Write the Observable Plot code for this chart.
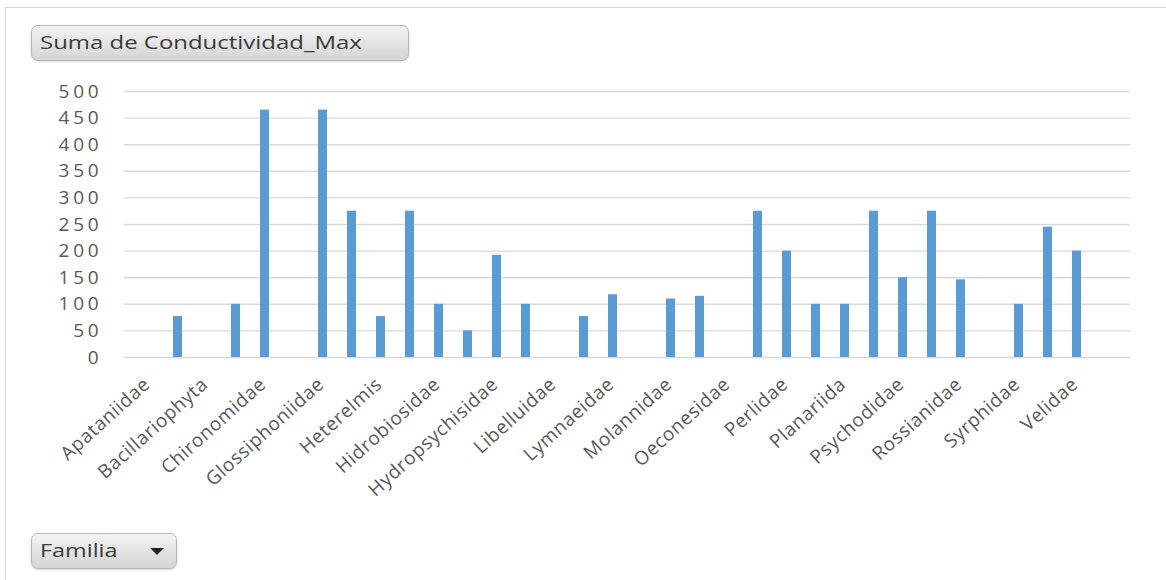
<!DOCTYPE html>
<html>
<head>
<meta charset="utf-8">
<script src="https://cdn.jsdelivr.net/npm/d3@7"></script>
<script src="https://cdn.jsdelivr.net/npm/@observablehq/plot@0.6"></script>
<style>
  body { margin: 0; background: #ffffff; }
  #wrap { position: relative; width: 1166px; height: 580px; overflow: hidden; font-family: "Open Sans", sans-serif; background: #fff; }
  #frame { position: absolute; left: 5px; top: 7px; width: 1200px; height: 640px; border: 1.5px solid #d6d6d6; }
  #chart { position: absolute; left: 0; top: 0; }
  .btn { position: absolute; box-sizing: border-box; border: 1px solid #b5b5b5; border-radius: 7px;
         background: linear-gradient(#f4f4f4, #d4d4d4); color: #3a3a3a; font-size: 18px;
         box-shadow: 0 1px 2px rgba(0,0,0,0.15); white-space: nowrap; }
  .btn .lbl { display: inline-block; transform: scaleX(1.33); transform-origin: left center; }
  #title { left: 31px; top: 25px; width: 378px; height: 36px; padding: 4px 0 0 8px; }
  #filter { left: 31px; top: 533px; width: 146px; height: 36px; padding: 4px 0 0 8px; }
  #filter .lbl { transform: scaleX(1.3); }
  #filter .arrow { position: absolute; right: 12px; top: 14px; width: 0; height: 0;
         border-left: 7px solid transparent; border-right: 7px solid transparent; border-top: 7px solid #222; }
</style>
</head>
<body>
<div id="wrap">
  <div id="frame"></div>
  <div id="chart"></div>
  <div class="btn" id="title"><span class="lbl">Suma de Conductividad_Max</span></div>
  <div class="btn" id="filter"><span class="lbl">Familia</span><span class="arrow"></span></div>
</div>
<script>
// Families in pivot order (every other label is shown on the axis)
const families = [
  "Apataniidae", "Athericidae", "Bacillariophyta", "Baetidae", "Chironomidae", "Elmidae",
  "Glossiphoniidae", "Gripopterygidae", "Heterelmis", "Hidracarina", "Hidrobiosidae", "Hyalellidae",
  "Hydropsychisidae", "Leptophlebiidae", "Libelluidae", "Limnephilidae", "Lymnaeidae", "Megapodagrionidae",
  "Molannidae", "Naucoridae", "Oeconesidae", "Oligochaeta", "Perlidae", "Philopotamidae",
  "Planariida", "Polycentropodidae", "Psychodidae", "Ptilodactylidae", "Rossianidae", "Simuliidae",
  "Syrphidae", "Tipulidae", "Velidae", "(en blanco)"
];
// Suma de Conductividad_Max (null = no bar)
const conductividad = [
  null, 77, null, 100, 465, null,
  465, 275, 77, 275, 100, 50,
  192, 100, null, 77, 118, null,
  110, 115, null, 275, 200, 100,
  100, 275, 150, 275, 146, null,
  100, 245, 200, null
];
// Labels visible on the category axis
const shownLabels = [
  "Apataniidae", "Bacillariophyta", "Chironomidae", "Glossiphoniidae", "Heterelmis", "Hidrobiosidae",
  "Hydropsychisidae", "Libelluidae", "Lymnaeidae", "Molannidae", "Oeconesidae", "Perlidae",
  "Planariida", "Psychodidae", "Rossianidae", "Syrphidae", "Velidae"
];
const yTicks = [0, 50, 100, 150, 200, 250, 300, 350, 400, 450, 500];

const rows = families.map((f, i) => ({family: f, value: conductividad[i]})).filter(d => d.value != null);

const chart = Plot.plot({
  width: 1166,
  height: 520,
  marginLeft: 124,
  marginRight: 36,
  marginTop: 91,
  marginBottom: 163,
  style: { fontFamily: "'Open Sans', sans-serif", fontSize: "19px", letterSpacing: "0.6px", color: "#595959", background: "transparent", overflow: "visible" },
  x: { domain: families, paddingInner: 0.68, paddingOuter: 0.34, label: null },
  y: { domain: [0, 500], label: null },
  marks: [
    Plot.ruleY(yTicks, { stroke: "#d9d9d9", strokeWidth: 1.4 }),
    Plot.barY(rows, { x: "family", y: "value", fill: "#5b9bd5" }),
    Plot.axisY({ ticks: yTicks, tickSize: 0, tickPadding: 22, fill: "#595959", fontSize: 19, label: null }),
    Plot.axisX({ ticks: shownLabels, tickSize: 0, tickRotate: -42, tickPadding: 24, dx: -2, fill: "#595959", fontSize: 19, label: null })
  ]
});
// widen the value labels like the reference's stretched digits
d3.select(chart).selectAll('g[aria-label="y-axis tick label"] text').style("letter-spacing", "3.8px");
document.getElementById("chart").appendChild(chart);
</script>
</body>
</html>
